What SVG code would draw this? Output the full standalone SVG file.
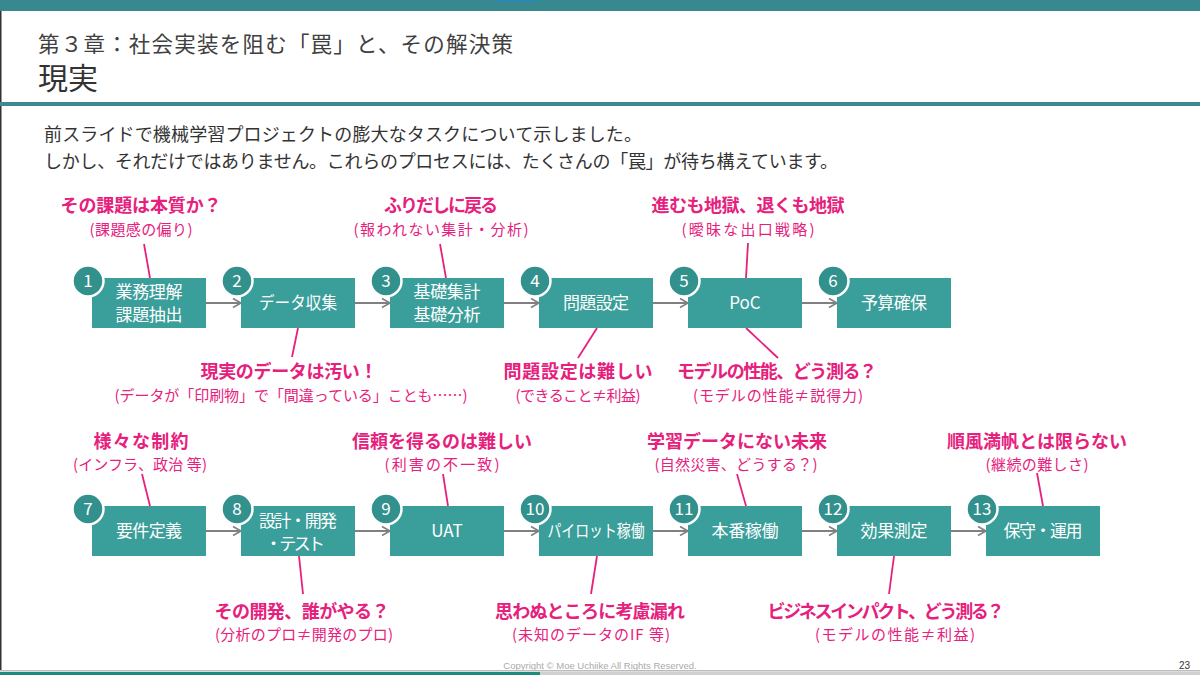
<svg xmlns="http://www.w3.org/2000/svg" width="1200" height="675" viewBox="0 0 1200 675">
<defs>
<style>
text{font-family:"Noto Sans CJK JP","Noto Sans",sans-serif;}
.box{fill:#3A9E9A;}
.num{fill:#32908D;stroke:#fff;stroke-width:2.5;}
.numt{fill:#fff;font-size:17px;text-anchor:middle;}
.bt{fill:#fff;font-size:17px;text-anchor:middle;}
.ct{fill:#E6217D;font-size:18px;font-weight:bold;text-anchor:middle;}
.cs{fill:#E6217D;font-size:15px;text-anchor:middle;}
.arr{stroke:#808080;stroke-width:1.8;fill:none;marker-end:url(#ah);}
.cl{stroke:#E6217D;stroke-width:1.8;fill:none;}
</style>
<marker id="ah" markerUnits="userSpaceOnUse" markerWidth="12" markerHeight="12" refX="10" refY="6" orient="auto">
<path d="M2,1.5 L10,6 L2,10.5" fill="none" stroke="#808080" stroke-width="1.6"/>
</marker>
</defs>
<rect width="1200" height="675" fill="#fff"/>
<!-- header -->
<rect x="0" y="0" width="1200" height="11" fill="#38898F"/>
<rect x="495" y="0" width="42" height="1.5" fill="#2E86C1"/>
<rect x="0" y="11" width="1.5" height="660" fill="#333"/>
<text x="38" y="52" font-size="21.5" fill="#404040" textLength="475">第３章：社会実装を阻む「罠」と、その解決策</text>
<text x="38" y="89" font-size="30" fill="#333">現実</text>
<rect x="0" y="102" width="1200" height="4" fill="#3F8890"/>
<text x="44" y="141" font-size="18" fill="#333" textLength="598">前スライドで機械学習プロジェクトの膨大なタスクについて示しました。</text>
<text x="44" y="168" font-size="18" fill="#333" textLength="794">しかし、それだけではありません。これらのプロセスには、たくさんの「罠」が待ち構えています。</text>

<!-- connectors -->
<g id="connectors">
<line class="arr" x1="206" y1="303" x2="241" y2="303"/>
<line class="arr" x1="355" y1="303" x2="390" y2="303"/>
<line class="arr" x1="504" y1="303" x2="539" y2="303"/>
<line class="arr" x1="653" y1="303" x2="688" y2="303"/>
<line class="arr" x1="802" y1="303" x2="837" y2="303"/>
<line class="arr" x1="206" y1="531" x2="241" y2="531"/>
<line class="arr" x1="355" y1="531" x2="390" y2="531"/>
<line class="arr" x1="504" y1="531" x2="539" y2="531"/>
<line class="arr" x1="653" y1="531" x2="688" y2="531"/>
<line class="arr" x1="802" y1="531" x2="837" y2="531"/>
<line class="arr" x1="951" y1="531" x2="986" y2="531"/>
<line class="cl" x1="144" y1="244" x2="150" y2="278"/>
<line class="cl" x1="440" y1="244" x2="446" y2="278"/>
<line class="cl" x1="748" y1="243" x2="746" y2="278"/>
<line class="cl" x1="298" y1="328" x2="292" y2="357"/>
<line class="cl" x1="597" y1="328" x2="578" y2="358"/>
<line class="cl" x1="746" y1="328" x2="778" y2="358"/>
<line class="cl" x1="142" y1="474" x2="150" y2="506"/>
<line class="cl" x1="443" y1="474" x2="448" y2="506"/>
<line class="cl" x1="737" y1="474" x2="746" y2="506"/>
<line class="cl" x1="1037" y1="473" x2="1043" y2="506"/>
<line class="cl" x1="299" y1="556" x2="303" y2="594"/>
<line class="cl" x1="597" y1="556" x2="591" y2="594"/>
<line class="cl" x1="894" y1="556" x2="889" y2="594"/>
</g>

<!-- row 1 nodes -->
<g id="n1"><rect class="box" x="92" y="278" width="114" height="50"/><circle class="num" cx="88" cy="281" r="15.5"/><text class="numt" x="88" y="287">1</text><text class="bt" x="149" y="298" textLength="67">業務理解</text><text class="bt" x="149" y="321" textLength="67">課題抽出</text></g>
<g id="n2"><rect class="box" x="241" y="278" width="114" height="50"/><circle class="num" cx="237" cy="281" r="15.5"/><text class="numt" x="237" y="287">2</text><text class="bt" x="298" y="309" textLength="78" lengthAdjust="spacingAndGlyphs">データ収集</text></g>
<g id="n3"><rect class="box" x="390" y="278" width="114" height="50"/><circle class="num" cx="386" cy="281" r="15.5"/><text class="numt" x="386" y="287">3</text><text class="bt" x="447" y="298" textLength="67">基礎集計</text><text class="bt" x="447" y="321" textLength="67">基礎分析</text></g>
<g id="n4"><rect class="box" x="539" y="278" width="114" height="50"/><circle class="num" cx="535" cy="281" r="15.5"/><text class="numt" x="535" y="287">4</text><text class="bt" x="596" y="309" textLength="66">問題設定</text></g>
<g id="n5"><rect class="box" x="688" y="278" width="114" height="50"/><circle class="num" cx="684" cy="281" r="15.5"/><text class="numt" x="684" y="287">5</text><text class="bt" x="745" y="309">PoC</text></g>
<g id="n6"><rect class="box" x="837" y="278" width="114" height="50"/><circle class="num" cx="833" cy="281" r="15.5"/><text class="numt" x="833" y="287">6</text><text class="bt" x="894" y="309" textLength="66">予算確保</text></g>

<!-- row 2 nodes -->
<g id="n7"><rect class="box" x="92" y="506" width="114" height="50"/><circle class="num" cx="88" cy="509" r="15.5"/><text class="numt" x="88" y="515">7</text><text class="bt" x="149" y="537" textLength="66">要件定義</text></g>
<g id="n8"><rect class="box" x="241" y="506" width="114" height="50"/><circle class="num" cx="237" cy="509" r="15.5"/><text class="numt" x="237" y="515">8</text><text class="bt" x="298" y="527" textLength="78">設計・開発</text><text class="bt" x="295" y="550" textLength="60">・テスト</text></g>
<g id="n9"><rect class="box" x="390" y="506" width="114" height="50"/><circle class="num" cx="386" cy="509" r="15.5"/><text class="numt" x="386" y="515">9</text><text class="bt" x="447" y="537">UAT</text></g>
<g id="n10"><rect class="box" x="539" y="506" width="114" height="50"/><circle class="num" cx="535" cy="509" r="15.5"/><text class="numt" x="535" y="515">10</text><text class="bt" x="596" y="537" textLength="97" lengthAdjust="spacingAndGlyphs">パイロット稼働</text></g>
<g id="n11"><rect class="box" x="688" y="506" width="114" height="50"/><circle class="num" cx="684" cy="509" r="15.5"/><text class="numt" x="684" y="515">11</text><text class="bt" x="745" y="537" textLength="67">本番稼働</text></g>
<g id="n12"><rect class="box" x="837" y="506" width="114" height="50"/><circle class="num" cx="833" cy="509" r="15.5"/><text class="numt" x="833" y="515">12</text><text class="bt" x="894" y="537" textLength="67">効果測定</text></g>
<g id="n13"><rect class="box" x="986" y="506" width="114" height="50"/><circle class="num" cx="982" cy="509" r="15.5"/><text class="numt" x="982" y="515">13</text><text class="bt" x="1043" y="537" textLength="79">保守・運用</text></g>

<!-- callouts -->
<g id="c1"><text class="ct" x="141" y="212" textLength="161">その課題は本質か？</text><text class="cs" x="141" y="235" textLength="103">(課題感の偏り)</text></g>
<g id="c3"><text class="ct" x="441" y="212" textLength="114">ふりだしに戻る</text><text class="cs" x="441" y="235" textLength="175">(報われない集計・分析)</text></g>
<g id="c5a"><text class="ct" x="748" y="212" textLength="193">進むも地獄、退くも地獄</text><text class="cs" x="748" y="235" textLength="133">(曖昧な出口戦略)</text></g>
<g id="c2"><text class="ct" x="289" y="378" textLength="177">現実のデータは汚い！</text><text class="cs" x="291" y="401" textLength="353">(データが「印刷物」で「間違っている」ことも……)</text></g>
<g id="c4"><text class="ct" x="578" y="378" textLength="149">問題設定は難しい</text><text class="cs" x="578" y="401" textLength="125">(できること≠利益)</text></g>
<g id="c5b"><text class="ct" x="777" y="378" textLength="200">モデルの性能、どう測る？</text><text class="cs" x="778" y="401" textLength="170">(モデルの性能≠説得力)</text></g>
<g id="c7"><text class="ct" x="141" y="448" textLength="95">様々な制約</text><text class="cs" x="140" y="470" textLength="134">(インフラ、政治 等)</text></g>
<g id="c9"><text class="ct" x="442" y="448" textLength="180">信頼を得るのは難しい</text><text class="cs" x="442" y="470" textLength="115">(利害の不一致)</text></g>
<g id="c11"><text class="ct" x="737" y="448" textLength="180">学習データにない未来</text><text class="cs" x="736" y="470" textLength="163">(自然災害、どうする？)</text></g>
<g id="c13"><text class="ct" x="1037" y="448" textLength="180">順風満帆とは限らない</text><text class="cs" x="1037" y="470" textLength="103">(継続の難しさ)</text></g>
<g id="c8"><text class="ct" x="302" y="618" textLength="175">その開発、誰がやる？</text><text class="cs" x="304" y="640" textLength="178">(分析のプロ≠開発のプロ)</text></g>
<g id="c10"><text class="ct" x="590" y="618" textLength="190">思わぬところに考慮漏れ</text><text class="cs" x="591" y="640" textLength="158">(未知のデータのIF 等)</text></g>
<g id="c12"><text class="ct" x="886" y="618" textLength="237">ビジネスインパクト、どう測る？</text><text class="cs" x="895" y="640" textLength="160">(モデルの性能≠利益)</text></g>

<!-- footer -->
<text x="600" y="669" font-size="9.5" fill="#aaa" text-anchor="middle" style="font-family:'Liberation Sans',sans-serif">Copyright © Moe Uchiike All Rights Reserved.</text>
<text x="1190" y="669" font-size="10" fill="#333" text-anchor="end" style="font-family:'Liberation Sans',sans-serif">23</text>
<rect x="0" y="670" width="1200" height="1.5" fill="#bbb"/>
<rect x="0" y="672" width="1200" height="3" fill="#d0d0d0"/>
<rect x="0" y="672" width="540" height="3" fill="#1F8A7E"/>
</svg>
